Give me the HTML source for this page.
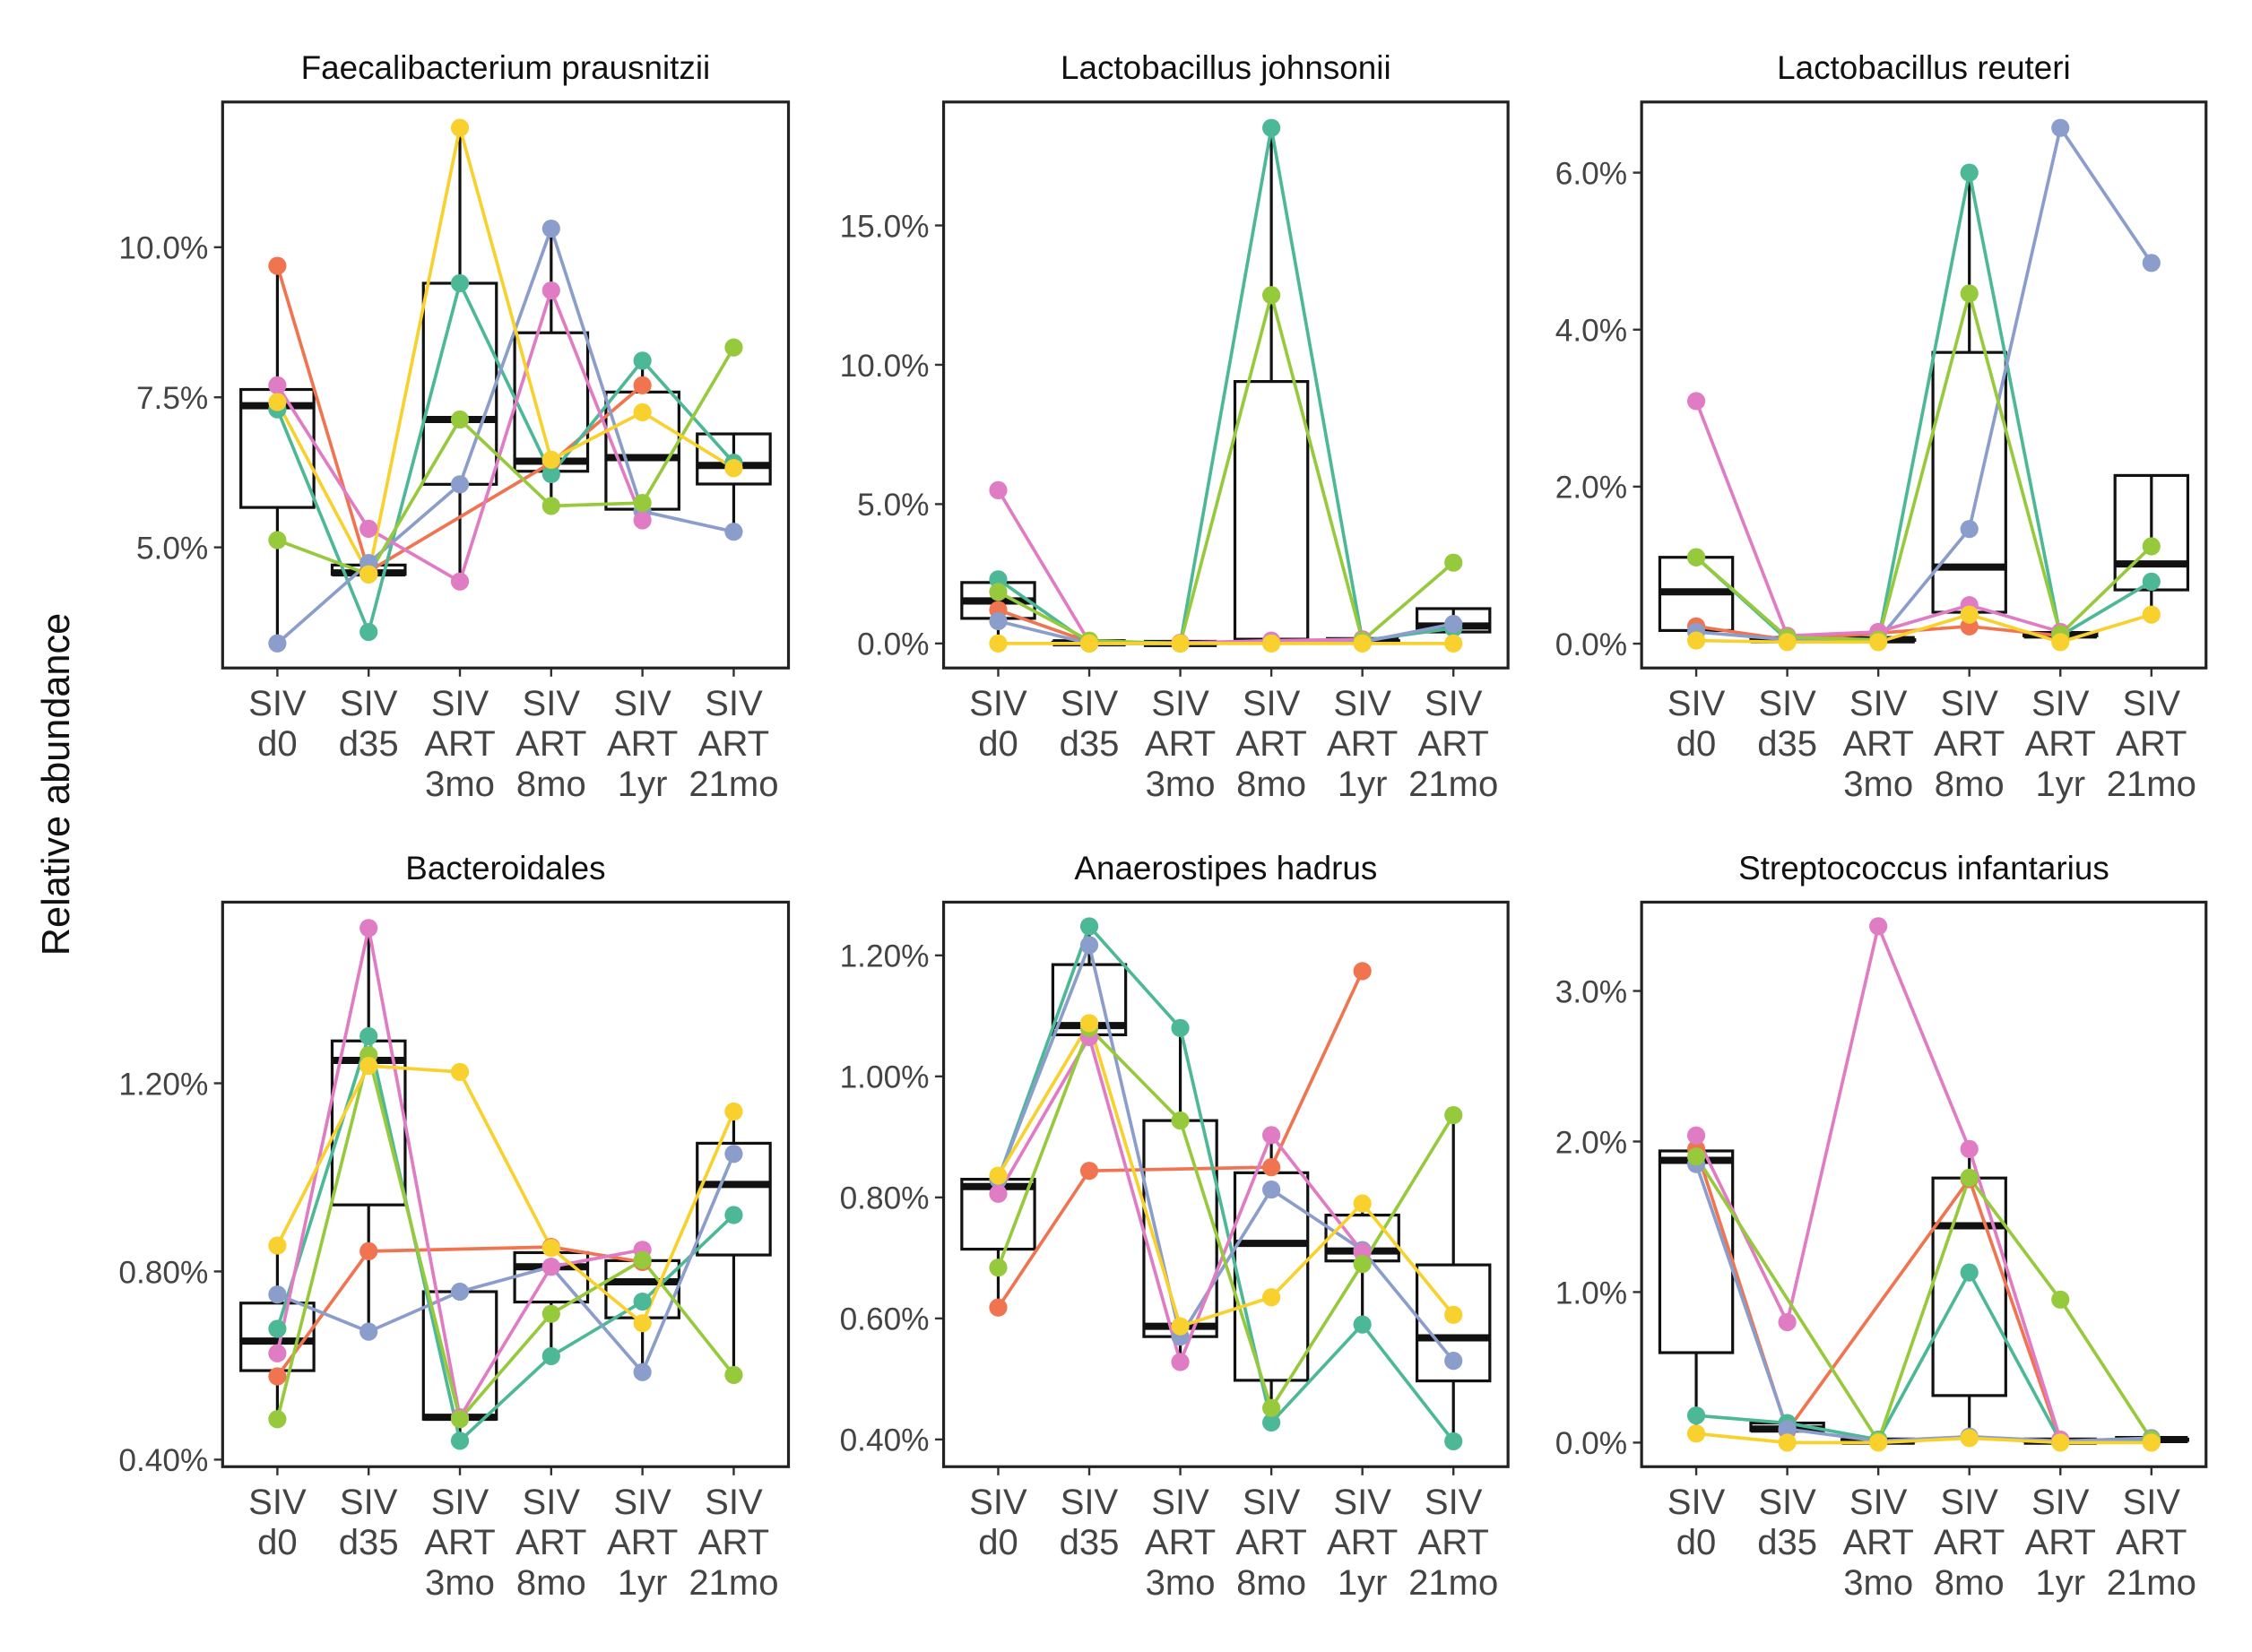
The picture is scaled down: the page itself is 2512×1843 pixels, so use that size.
<!DOCTYPE html>
<html><head><meta charset="utf-8"><style>
html,body{margin:0;padding:0;background:#fff;}
svg{display:block;font-family:"Liberation Sans",Arial,sans-serif;}
</style></head><body>
<svg id="chart" width="2512" height="1843" viewBox="0 0 1568 1150" preserveAspectRatio="none" xmlns="http://www.w3.org/2000/svg">
<rect width="1568" height="1150" fill="#fff"/>
<text x="0" y="0" transform="translate(48,546) rotate(-90)" text-anchor="middle" font-size="27" fill="#111">Relative abundance</text>
</svg>
<script>
const categories = [["SIV","d0"],["SIV","d35"],["SIV","ART","3mo"],["SIV","ART","8mo"],["SIV","ART","1yr"],["SIV","ART","21mo"]];
const seriesNames = ["orange","teal","blue","pink","green","yellow"];
const seriesColors = ["#F07450","#4DB896","#8B9DCB","#E07CC3","#97C93D","#F8D12E"];
const panelTitles = ["Faecalibacterium prausnitzii","Lactobacillus johnsonii","Lactobacillus reuteri","Bacteroidales","Anaerostipes hadrus","Streptococcus infantarius"];
const panelDomains = [[2.99,12.42],[-0.88,19.43],[-0.31,6.9],[0.385,1.585],[0.355,1.288],[-0.16,3.59]];
const panelTicks = [[5,7.5,10],[0,5,10,15],[0,2,4,6],[0.4,0.8,1.2],[0.4,0.6,0.8,1.0,1.2],[0,1,2,3]];
const panelTickLabels = [["5.0%","7.5%","10.0%"],["0.0%","5.0%","10.0%","15.0%"],["0.0%","2.0%","4.0%","6.0%"],["0.40%","0.80%","1.20%"],["0.40%","0.60%","0.80%","1.00%","1.20%"],["0.0%","1.0%","2.0%","3.0%"]];
const p1 = [[9.69,4.6,null,6.41,7.70,null],[7.30,3.59,9.40,6.22,8.11,6.41],[3.40,4.74,6.05,10.31,5.6,5.26],[7.70,5.31,4.43,9.28,5.45,null],[5.12,4.55,7.13,5.69,5.74,8.33],[7.42,4.55,11.99,6.46,7.25,6.32]];
const p2 = [[1.2,0.05,0.02,0.05,0.1,null],[2.3,0,0,18.5,0.1,0.55],[0.8,0,0,0.05,0.05,0.7],[5.5,0.05,0.02,0.1,0.15,null],[1.85,0.1,0,12.5,0.1,2.9],[0,0,0,0,0,0]];
const p3 = [[0.22,0.05,null,0.22,0.1,null],[1.1,0.05,0.05,6.0,0.1,0.79],[0.15,0.05,0.05,1.46,6.57,4.85],[3.09,0.1,0.15,0.49,0.15,null],[1.1,0.08,0.05,4.46,0.12,1.24],[0.04,0.02,0.02,0.37,0.02,0.37]];
const p4 = [[0.577,0.843,null,0.852,0.82,null],[0.678,1.30,0.44,0.62,0.736,0.92],[0.751,0.672,0.757,0.81,0.586,1.05],[0.626,1.53,0.49,0.81,0.846,null],[0.486,1.26,0.486,0.71,0.824,0.58],[0.855,1.237,1.224,0.85,0.69,1.14]];
const p5 = [[0.618,0.844,null,0.85,1.174,null],[0.83,1.248,1.08,0.428,0.59,0.397],[0.83,1.217,0.57,0.813,0.713,0.53],[0.806,1.065,0.528,0.903,0.71,null],[0.684,1.08,0.927,0.452,0.69,0.936],[0.836,1.088,0.587,0.635,0.79,0.606]];
const p6 = [[1.95,0.08,null,1.75,0.01,null],[0.18,0.13,0.02,1.13,0.01,0.02],[1.85,0.09,0.01,0.04,0.01,0.03],[2.04,0.8,3.43,1.95,0.02,null],[1.9,null,0.01,1.76,0.95,0.02],[0.06,0,0,0.03,0,0]];
const panelData = [p1,p2,p3,p4,p5,p6];

const NS="http://www.w3.org/2000/svg";
const svg=document.getElementById('chart');
const panelX=[[155,549],[657,1050],[1143,1536]];
const panelY=[[71,465],[628,1021]];
function mk(tag,attrs,parent){const e=document.createElementNS(NS,tag);for(const k in attrs)e.setAttribute(k,attrs[k]);(parent||svg).appendChild(e);return e;}
function quant(s,p){const h=(s.length-1)*p,lo=Math.floor(h),hi=Math.ceil(h);return s[lo]+(s[hi]-s[lo])*(h-lo);}

panelData.forEach((data,pi)=>{
  const [x0,x1]=panelX[pi%3],[y0,y1]=panelY[Math.floor(pi/3)];
  const dom=panelDomains[pi];
  const xs=i=>x0+(0.6+i)*(x1-x0)/6.2;
  const ys=v=>y1-(v-dom[0])/(dom[1]-dom[0])*(y1-y0);
  const g=mk('g',{});
  
  
  const t=mk('text',{x:(x0+x1)/2,y:y0-16,'text-anchor':'middle','font-size':23,fill:'#111'},g);
  
  
  t.textContent=panelTitles[pi];
  panelTicks[pi].forEach((tv,ti)=>{
    const y=ys(tv);
    mk('line',{x1:x0-6,x2:x0,y1:y,y2:y,stroke:'#333','stroke-width':1.5},g);
    const l=mk('text',{x:x0-10,y:y+8,'text-anchor':'end','font-size':22,fill:'#444'},g);
    
    
    l.textContent=panelTickLabels[pi][ti];
  });
  categories.forEach((c,ci)=>{
    const x=xs(ci);
    mk('line',{x1:x,x2:x,y1:y1,y2:y1+6,stroke:'#333','stroke-width':1.5},g);
    const l=mk('text',{x:x,y:y1+33,'text-anchor':'middle','font-size':25,fill:'#444'},g);
    
    
    c.forEach((w,wi)=>{const ts=mk('tspan',{x:x,dy:wi?28:0},l);ts.textContent=w;});
  });
  const bw=(x1-x0)/6.2*0.8;
  categories.forEach((c,ci)=>{
    const vals=data.map(s=>s[ci]).filter(v=>v!==null).sort((a,b)=>a-b);
    if(!vals.length)return;
    const q1=quant(vals,0.25),md=quant(vals,0.5),q3=quant(vals,0.75),iqr=q3-q1;
    const lo=Math.min(...vals.filter(v=>v>=q1-1.5*iqr)),hi=Math.max(...vals.filter(v=>v<=q3+1.5*iqr));
    const x=xs(ci);
    const bg=mk('g',{},g);
    
    
    mk('line',{x1:x,x2:x,y1:ys(hi),y2:ys(q3),stroke:'#111','stroke-width':2},bg);
    mk('line',{x1:x,x2:x,y1:ys(q1),y2:ys(lo),stroke:'#111','stroke-width':2},bg);
    mk('rect',{x:x-bw/2,y:ys(q3),width:bw,height:Math.max(0.5,ys(q1)-ys(q3)),fill:'none',stroke:'#111','stroke-width':2},bg);
    mk('line',{x1:x-bw/2,x2:x+bw/2,y1:ys(md),y2:ys(md),stroke:'#111','stroke-width':5},bg);
  });
  data.forEach((s,si)=>{
    const pts=[];s.forEach((v,ci)=>{if(v!==null)pts.push(xs(ci)+','+ys(v));});
    const pl=mk('polyline',{points:pts.join(' '),fill:'none',stroke:seriesColors[si],'stroke-width':2.3},g);
    
    
  });
  data.forEach((s,si)=>{
    s.forEach((v,ci)=>{
      if(v===null)return;
      const p=mk('circle',{cx:xs(ci),cy:ys(v),r:6.3,fill:seriesColors[si]},g);
      
      
    });
  });
  const fr=mk('rect',{x:x0,y:y0,width:x1-x0,height:y1-y0,fill:'none',stroke:'#222','stroke-width':2},g);
  
  
});
</script>
</body></html>
